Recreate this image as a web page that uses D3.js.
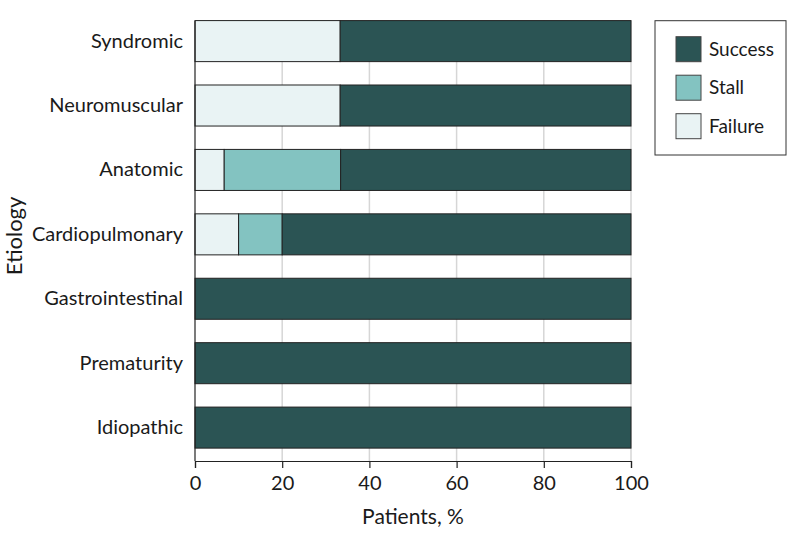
<!DOCTYPE html>
<html><head><meta charset="utf-8">
<script src="https://cdn.jsdelivr.net/npm/d3@7"></script>
<style>body{margin:0;background:#fff}svg{display:block}text{font-family:Lato,"Open Sans",sans-serif;fill:#1a1a1a}</style>
</head><body><svg id="c" width="798" height="546"></svg>
<script>
const categories = ["Syndromic","Neuromuscular","Anatomic","Cardiopulmonary","Gastrointestinal","Prematurity","Idiopathic"];
const failure = [33.3, 33.3, 6.7, 10, 0, 0, 0];
const stall   = [0, 0, 26.7, 10, 0, 0, 0];
const success = [66.7, 66.7, 66.6, 80, 100, 100, 100];
const seriesNames = ["Failure","Stall","Success"];
const legendOrder = ["Success","Stall","Failure"];
const xTicks = [0,20,40,60,80,100];
const colors = {Success:"#2b5454", Stall:"#83c3c1", Failure:"#e9f3f4"};

const svg = d3.select("#c");
const pLeft = 195, pRight = 631, pTop = 20.7, pBottom = 461;
const x = d3.scaleLinear().domain([0,100]).range([pLeft,pRight]);
const y = d3.scaleBand().domain(categories).range([pTop - 13, pBottom]).paddingInner(0.363).paddingOuter(0.2);

const rows = categories.map((c,i)=>({cat:c, Failure:failure[i], Stall:stall[i], Success:success[i]}));
const stacked = d3.stack().keys(seriesNames)(rows);

// gridlines
svg.append("g").selectAll("line").data(xTicks.filter(d=>d>0)).join("line")
  .attr("x1",d=>x(d)).attr("x2",d=>x(d)).attr("y1",pTop).attr("y2",pBottom)
  .attr("stroke","#d6d6d6").attr("stroke-width",1.5);

// bars
svg.append("g").selectAll("g").data(stacked).join("g")
  .attr("fill",d=>colors[d.key])
  .selectAll("rect").data(d=>d.filter(v=>v[1]-v[0]>0)).join("rect")
  .attr("x",d=>x(d[0])).attr("width",d=>x(d[1])-x(d[0]))
  .attr("y",d=>y(d.data.cat)).attr("height",y.bandwidth())
  .attr("stroke","#222").attr("stroke-width",1);

// x axis
const xa = svg.append("g").attr("transform",`translate(0,${pBottom})`)
  .call(d3.axisBottom(x).tickValues(xTicks).tickSize(7).tickPadding(8));
xa.select(".domain").attr("stroke","#222").attr("stroke-width",1.2);
xa.selectAll(".tick line").attr("stroke","#222").attr("stroke-width",1.2);
xa.selectAll(".tick text").attr("font-size",20).attr("font-family","Lato,sans-serif").attr("fill","#1a1a1a");

// y axis
svg.append("line").attr("x1",pLeft).attr("x2",pLeft).attr("y1",pTop).attr("y2",pBottom).attr("stroke","#222").attr("stroke-width",1.2);
const ya = svg.append("g").attr("transform",`translate(${pLeft},0)`)
  .call(d3.axisLeft(y).tickSize(0).tickPadding(12));
ya.select(".domain").remove();
ya.selectAll(".tick text").attr("font-size",20).attr("font-family","Lato,sans-serif").attr("fill","#1a1a1a");

// axis titles
svg.append("text").attr("x",(pLeft+pRight)/2).attr("y",524).attr("text-anchor","middle").attr("font-size",21).text("Patients, %");
svg.append("text").attr("transform","translate(22,236) rotate(-90)").attr("text-anchor","middle").attr("font-size",22).text("Etiology");

// legend
const lg = svg.append("g");
lg.append("rect").attr("x",655).attr("y",20.7).attr("width",131).attr("height",134.3).attr("fill","#fff").attr("stroke","#333").attr("stroke-width",1);
legendOrder.forEach((k,i)=>{
  const yy = 36.7 + i*38.5;
  lg.append("rect").attr("x",676).attr("y",yy).attr("width",25).attr("height",25).attr("fill",colors[k]).attr("stroke","#444").attr("stroke-width",1);
  lg.append("text").attr("x",709).attr("y",yy+12.5).attr("dy","0.35em").attr("font-size",19).text(k);
});
</script></body></html>
